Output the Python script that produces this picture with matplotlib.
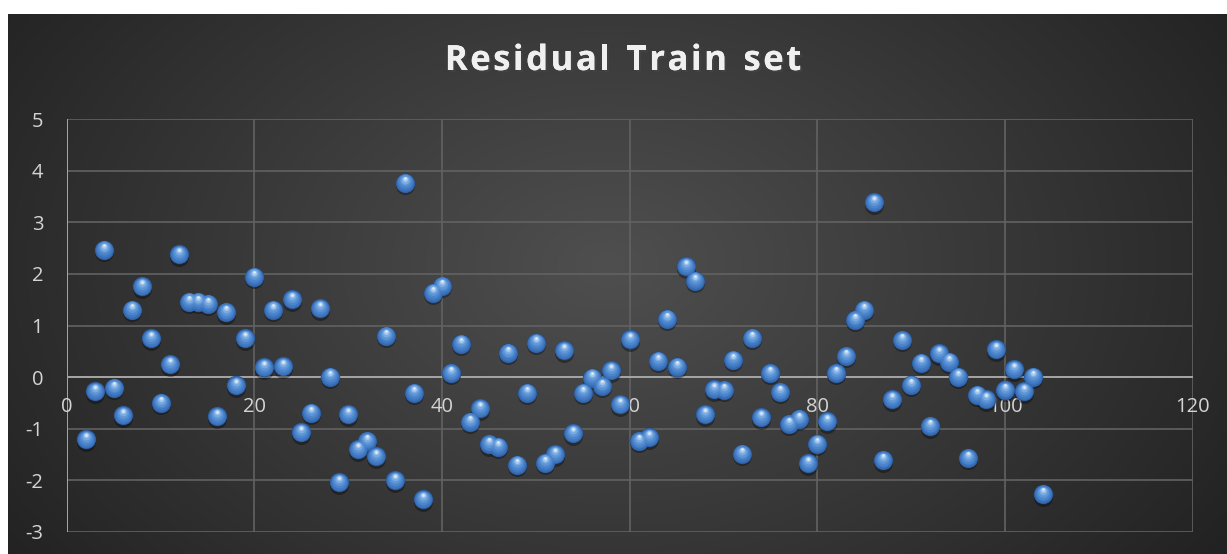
import numpy as np
import matplotlib.pyplot as plt
import matplotlib.patheffects as pe
from matplotlib.transforms import offset_copy

# residuals of the training set, one per observation
obs = list(range(2, 105))
residual = [
    -1.21, -0.28, 2.47, -0.21, -0.74, 1.31, 1.76, 0.75, -0.50, 0.25,    # 2-11
    2.38, 1.46, 1.46, 1.42, -0.76, 1.26, -0.16, 0.75, 1.95, 0.19,       # 12-21
    1.31, 0.21, 1.51, -1.07, -0.69, 1.33, 0.01, -2.04, -0.72, -1.40,    # 22-31
    -1.24, -1.54, 0.80, -2.00, 3.77, -0.30, -2.37, 1.64, 1.77, 0.08,    # 32-41
    0.65, -0.87, -0.61, -1.30, -1.35, 0.47, -1.70, -0.30, 0.67, -1.66,  # 42-51
    -1.50, 0.52, -1.09, -0.30, -0.01, -0.17, 0.13, -0.53, 0.73, -1.24,  # 52-61
    -1.17, 0.32, 1.13, 0.20, 2.15, 1.87, -0.72, -0.24, -0.25, 0.34,     # 62-71
    -1.49, 0.76, -0.78, 0.08, -0.29, -0.91, -0.81, -1.67, -1.29, -0.86, # 72-81
    0.08, 0.41, 1.11, 1.31, 3.39, -1.61, -0.43, 0.72, -0.15, 0.28,      # 82-91
    -0.95, 0.46, 0.30, 0.01, -1.57, -0.34, -0.43, 0.54, -0.25, 0.15,    # 92-101
    -0.28, 0.01, -2.27,                                                 # 102-104
]
x_ticks = [0, 20, 40, 60, 80, 100, 120]
y_ticks = [-3, -2, -1, 0, 1, 2, 3, 4, 5]
title = 'Residual Train set'

W, H = 1227, 554
fig = plt.figure(figsize=(W / 100, H / 100), dpi=100, facecolor='white')

# dark chart area with a soft radial glow
bg = fig.add_axes([8 / W, 0, (W - 8) / W, (H - 14) / H])
bg.set_axis_off()
yy, xx = np.mgrid[0:540, 0:1219]
r = np.sqrt(((xx - 600) / 760.0) ** 2 + ((yy - 250) / 520.0) ** 2)
shade = np.clip(0.31 - 0.18 * r, 0.13, 0.32)
bg.imshow(np.dstack([shade] * 3), aspect='auto', interpolation='bilinear')

ax = fig.add_axes([66.8 / W, (H - 531.7) / H, (1192.7 - 66.8) / W, (531.7 - 119.3) / H])
ax.set_facecolor('none')
ax.set_xlim(0, 120)
ax.set_ylim(-3, 5)
for s in ax.spines.values():
    s.set_visible(False)

grid_c = '#626262'
for t in y_ticks:
    ax.axhline(t, color=grid_c, lw=1.2, zorder=1)
for t in x_ticks:
    ax.axvline(t, color=grid_c, lw=1.2, zorder=1)
ax.axhline(0, color='#a6a6a6', lw=1.4, zorder=1.5)
ax.axvline(0, color='#a6a6a6', lw=1.4, zorder=1.5)

lab_font = dict(fontsize=14.5, color='#d4d4d4', family='Open Sans')
ax.set_xticks([])
ax.set_yticks(y_ticks)
ax.set_yticklabels([str(t) for t in y_ticks], **lab_font)
ax.tick_params(axis='y', length=0, pad=17)

# x labels sit just under the zero line
lab_tr = offset_copy(ax.transData, fig=fig, x=0, y=-30, units='dots')
for t in x_ticks:
    ax.text(t, 0, str(t), transform=lab_tr, ha='center', va='center',
            zorder=2, **lab_font)

# glossy sphere markers built from stacked discs
def layer(dy, size_px, color, alpha=1.0, z=3):
    tr = offset_copy(ax.transData, fig=fig, x=0, y=dy, units='dots')
    s = (size_px * 0.72) ** 2
    ax.scatter(obs, residual, s=s, c=color, alpha=alpha, lw=0,
               transform=tr, zorder=z)

layer(-2.5, 19, '#000000', alpha=0.35, z=3)
layer(0, 19.5, '#23497e', z=3.1)
steps = [(0.0, 18.5, '#3569b0'), (0.6, 16.5, '#3f77c0'), (1.4, 14.0, '#4c85cb'),
         (2.3, 11.0, '#5d95d6'), (3.2, 8.0, '#7aabe2'), (4.0, 5.0, '#a8caef'),
         (4.6, 2.5, '#e2eefb')]
for i, (dy, sz, col) in enumerate(steps):
    layer(dy, sz, col, z=3.2 + i * 0.01)

# title drawn letter by letter for the wide tracking
title_font = dict(fontsize=25, fontweight='bold', color='#f0f0f0', family='Open Sans',
                  path_effects=[pe.withSimplePatchShadow(offset=(1.5, -1.5), alpha=0.5),
                                pe.Normal()])
renderer = fig.canvas.get_renderer()
track = 2.5
widths = []
for ch in title:
    t = fig.text(0, 0, ch if ch != ' ' else 'n', **title_font)
    w = t.get_window_extent(renderer).width
    widths.append(w * 0.5 if ch == ' ' else w)
    t.remove()
total = sum(widths) + track * (len(title) - 1)
xpos = 623 - total / 2
for ch, w in zip(title, widths):
    if ch != ' ':
        fig.text(xpos / W, 1 - 61 / H, ch, ha='left', va='center', **title_font)
    xpos += w + track

fig.savefig('out.png', dpi=100, facecolor=fig.get_facecolor())
